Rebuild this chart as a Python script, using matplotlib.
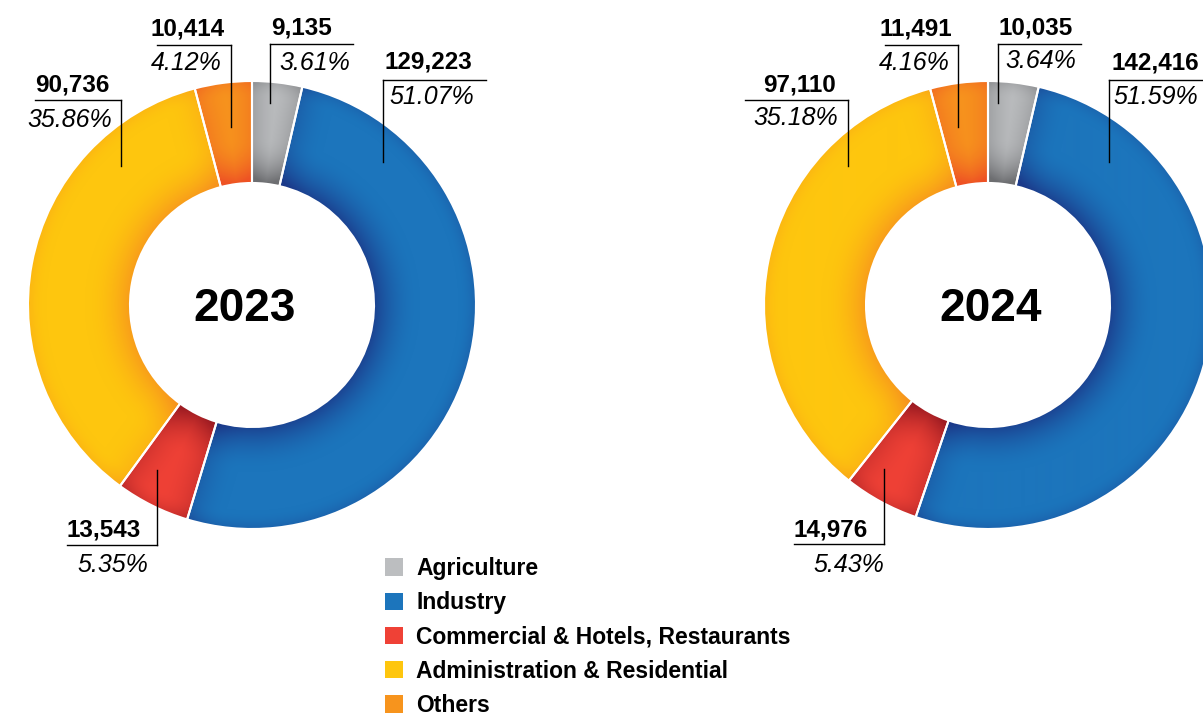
"""
Electricity consumption by sector, 2023 vs 2024 (donut charts).
"""

import matplotlib.pyplot as plt
import numpy as np
from matplotlib.colors import to_rgb
from matplotlib.patches import Patch

categories = [
    "Agriculture",
    "Industry",
    "Commercial & Hotels, Restaurants",
    "Administration & Residential",
    "Others",
]
years = ["2023", "2024"]
values_2023 = [9135, 129223, 13543, 90736, 10414]
values_2024 = [10035, 142416, 14976, 97110, 11491]
values_by_year = {"2023": values_2023, "2024": values_2024}

base_colors = ["#bcbec0", "#1c75bc", "#ef4136", "#fec60e", "#f7941d"]
dark_colors = ["#6d6e71", "#1b3a8a", "#9e1c22", "#f7941d", "#ee5224"]

# layout, in pixels (y grows downwards)
W, H = 1203, 717
R_OUT, R_IN = 224, 122
centers = {"2023": (252, 305), "2024": (988, 305)}
title_pos = {"2023": (245, 309), "2024": (991, 309)}

# per wedge: x of vertical leader, y of horizontal line, y where leader ends,
# horizontal line x-range, value text centre, percent text centre
label_layout = {
    "2023": [
        (270, 44, 103, 270, 353, (302, 28), (315, 63)),
        (383, 80, 162, 383, 486, (428, 62), (432, 97)),
        (157, 545, 470, 67, 157, (104, 530), (113, 565)),
        (121, 100, 166, 35, 121, (72, 85), (70, 120)),
        (231, 45, 127, 157, 231, (188, 29), (186, 63)),
    ],
    "2024": [
        (998, 44, 103, 998, 1081, (1036, 28), (1041, 61)),
        (1109, 80, 162, 1109, 1203, (1155, 63), (1156, 97)),
        (884, 544, 469, 794, 884, (831, 530), (849, 565)),
        (848, 100, 166, 745, 848, (800, 85), (796, 118)),
        (958, 45, 127, 885, 958, (916, 29), (914, 63)),
    ],
}

plt.rcParams["font.family"] = ["Liberation Sans", "DejaVu Sans"]


def angdist(a, b):
    return np.abs((a - b + 180) % 360 - 180)


def shade_wedge(ax, wedge, cx, cy, base, dark):
    # radial / edge shading painted as an image clipped to the wedge
    x = np.arange(cx - R_OUT, cx + R_OUT + 1)
    y = np.arange(cy - R_OUT, cy + R_OUT + 1)
    X, Y = np.meshgrid(x, y)
    dx, dy = X - cx, Y - cy
    r = np.hypot(dx, dy)
    ang = np.degrees(np.arctan2(dy, dx))
    d_edge = np.radians(np.minimum(angdist(ang, wedge.theta1), angdist(ang, wedge.theta2))) * r
    t = np.clip((r - R_IN) / (R_OUT - R_IN), 0, 1)
    inner = np.clip(1 - t / 0.45, 0, 1) ** 2 * 0.85
    outer = np.clip((t - 0.82) / 0.18, 0, 1) ** 2 * 0.3
    edge = np.clip(1 - d_edge / 35, 0, 1) ** 2 * 0.35
    b = np.clip(inner + outer + edge, 0, 1)[..., None]
    img = np.array(to_rgb(base)) * (1 - b) + np.array(to_rgb(dark)) * b
    im = ax.imshow(
        img,
        extent=(x[0] - 0.5, x[-1] + 0.5, y[-1] + 0.5, y[0] - 0.5),
        interpolation="bilinear",
        zorder=2,
    )
    im.set_clip_path(wedge)


fig = plt.figure(figsize=(W / 100, H / 100), dpi=100)
ax = fig.add_axes([0, 0, 1, 1])

for year in years:
    values = values_by_year[year]
    cx, cy = centers[year]
    total = sum(values)

    wedges, _ = ax.pie(
        values,
        center=(cx, cy),
        radius=R_OUT,
        startangle=-90,
        counterclock=True,
        colors=base_colors,
        wedgeprops=dict(width=R_OUT - R_IN, linewidth=0),
    )
    for w, base, dark in zip(wedges, base_colors, dark_colors):
        shade_wedge(ax, w, cx, cy, base, dark)

    # white separators
    ax.pie(
        values,
        center=(cx, cy),
        radius=R_OUT,
        startangle=-90,
        counterclock=True,
        colors=["none"] * len(values),
        wedgeprops=dict(width=R_OUT - R_IN, linewidth=1.5, edgecolor="white", zorder=3),
    )

    # leaders and labels
    for val, (xv, yl, ye, x0, x1, vpos, ppos) in zip(values, label_layout[year]):
        ax.plot([xv, xv], [yl, ye], color="black", lw=1, zorder=4)
        ax.plot([x0, x1], [yl, yl], color="black", lw=1, zorder=4)
        ax.text(*vpos, f"{val:,}", ha="center", va="center", fontsize=17.5, fontweight="bold", zorder=5)
        ax.text(*ppos, f"{val / total * 100:.2f}%", ha="center", va="center", fontsize=18,
                fontstyle="italic", zorder=5)

    ax.text(*title_pos[year], year, ha="center", va="center", fontsize=33, fontweight="bold", zorder=5)

handles = [Patch(facecolor=c, edgecolor="none") for c in base_colors]
leg = ax.legend(
    handles,
    categories,
    loc="upper left",
    bbox_to_anchor=(385 / W, 1 - 557 / H),
    frameon=False,
    handlelength=0.78,
    handleheight=0.78,
    handletextpad=0.58,
    labelspacing=0.49,
    borderpad=0,
    borderaxespad=0,
    prop=dict(size=16.5, weight="bold"),
)

ax.set_xlim(0, W)
ax.set_ylim(H, 0)
ax.set_aspect("equal")
ax.axis("off")

plt.savefig("out.png", dpi=100)
